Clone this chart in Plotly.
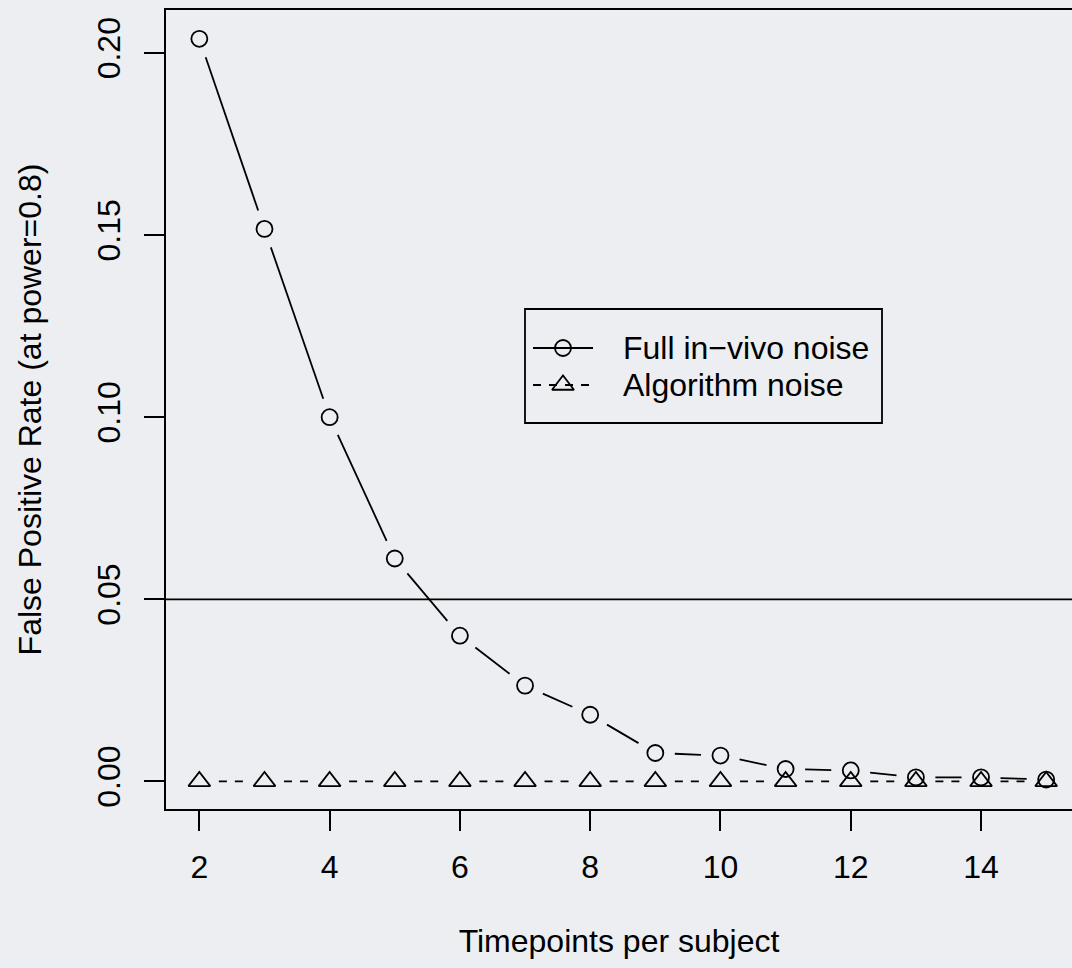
import plotly.graph_objects as go

# ---------------- data ----------------
timepoints = [2, 3, 4, 5, 6, 7, 8, 9, 10, 11, 12, 13, 14, 15]
full_invivo = [0.2039, 0.1517, 0.1000, 0.0612, 0.0400, 0.0263, 0.0183,
               0.0078, 0.0071, 0.0034, 0.0030, 0.0011, 0.0011, 0.0005]
algorithm = [0.0] * 14
threshold = 0.05
x_ticks = [2, 4, 6, 8, 10, 12, 14]
y_ticks = [0.00, 0.05, 0.10, 0.15, 0.20]
y_tick_text = ["0.00", "0.05", "0.10", "0.15", "0.20"]
series_names = ["Full in\u2212vivo noise", "Algorithm noise"]

# ---------------- layout geometry ----------------
W, H = 1072, 968
ML, MR, MT, MB = 166, 0, 10, 159
PW, PH = W - ML - MR, H - MT - MB
XMIN = 1.488
XPX = 65.14                      # px per x unit
XMAX = XMIN + PW / XPX
YPX = 3642.0                     # px per y unit
YMIN = -(809.3 - 781.7) / YPX
YMAX = YMIN + PH / YPX
BG = "#eceef1"
FONT = "Liberation Sans, Arial, Helvetica, sans-serif"
FS = 32
LW = 1.8
GAP = 19.5                       # R type="b" gap around points (px)


def gapped(xs, ys):
    """Segments between consecutive points, shortened around each point (R type='b')."""
    gx, gy = [], []
    for i in range(len(xs) - 1):
        x0, y0 = (xs[i] - XMIN) * XPX, (ys[i] - YMIN) * YPX
        x1, y1 = (xs[i + 1] - XMIN) * XPX, (ys[i + 1] - YMIN) * YPX
        dx, dy = x1 - x0, y1 - y0
        d = (dx * dx + dy * dy) ** 0.5
        if d <= 2 * GAP:
            continue
        ux, uy = dx / d, dy / d
        sx, sy = x0 + ux * GAP, y0 + uy * GAP
        ex, ey = x1 - ux * GAP, y1 - uy * GAP
        gx += [sx / XPX + XMIN, ex / XPX + XMIN, None]
        gy += [sy / YPX + YMIN, ey / YPX + YMIN, None]
    return gx, gy


fig = go.Figure()

# lines (gapped)
fx, fy = gapped(timepoints, full_invivo)
ax_, ay_ = gapped(timepoints, algorithm)
fig.add_trace(go.Scatter(x=fx, y=fy, mode="lines", showlegend=False,
                         line=dict(color="black", width=LW), hoverinfo="skip"))
fig.add_trace(go.Scatter(x=ax_, y=ay_, mode="lines", showlegend=False,
                         line=dict(color="black", width=LW, dash="8px,8px"),
                         hoverinfo="skip"))

# points
fig.add_trace(go.Scatter(x=timepoints, y=full_invivo, mode="markers",
                         name=series_names[0], showlegend=False,
                         marker=dict(symbol="circle-open", size=16,
                                     line=dict(color="black", width=LW), color="black")))
fig.add_trace(go.Scatter(x=timepoints, y=algorithm, mode="markers",
                         name=series_names[1], showlegend=False,
                         marker=dict(symbol="triangle-up-open", size=19,
                                     line=dict(color="black", width=LW), color="black")))

# threshold line
fig.add_hline(y=threshold, line=dict(color="black", width=LW), layer="below")

# ---------------- legend (R-style, drawn on a pixel-space overlay axis) -------------
LEG_BOX = (525, 309, 882, 423)          # left, top, right, bottom (px)
LEG_ROWS = [348, 385]                    # row centres (px)
LEG_SYM = (533, 593)                     # symbol line extent (px)
LEG_TEXT_X = 621
leg_dash = ["solid", "8px,8px"]
leg_sym = ["circle-open", "triangle-up-open"]
leg_size = [16, 19]

for i, name in enumerate(series_names):
    ry = H - LEG_ROWS[i]
    fig.add_trace(go.Scatter(x=[LEG_SYM[0], LEG_SYM[1]], y=[ry, ry], mode="lines",
                             xaxis="x2", yaxis="y2", showlegend=False, hoverinfo="skip",
                             line=dict(color="black", width=LW, dash=leg_dash[i])))
    fig.add_trace(go.Scatter(x=[(LEG_SYM[0] + LEG_SYM[1]) / 2], y=[ry], mode="markers",
                             xaxis="x2", yaxis="y2", showlegend=False, hoverinfo="skip",
                             marker=dict(symbol=leg_sym[i], size=leg_size[i],
                                         color="black",
                                         line=dict(color="black", width=LW))))
    fig.add_annotation(x=LEG_TEXT_X, y=ry, xref="x2", yref="y2", text=name,
                       showarrow=False, xanchor="left", yanchor="middle",
                       font=dict(family=FONT, size=FS, color="black"))

fig.add_shape(type="rect", xref="x2", yref="y2",
              x0=LEG_BOX[0], x1=LEG_BOX[2], y0=H - LEG_BOX[3], y1=H - LEG_BOX[1],
              line=dict(color="black", width=LW), fillcolor="rgba(0,0,0,0)")

fig.update_layout(
    width=W, height=H,
    margin=dict(l=ML, r=MR, t=MT, b=MB, pad=0),
    paper_bgcolor=BG, plot_bgcolor=BG,
    font=dict(family=FONT, size=FS, color="black"),
    showlegend=False,
    xaxis=dict(range=[XMIN, XMAX], tickvals=x_ticks, ticks="outside", ticklen=20,
               tickwidth=LW, tickcolor="black", showline=True, mirror=True,
               linecolor="black", linewidth=LW, showgrid=False, zeroline=False,
               ticklabelstandoff=9, tickfont=dict(size=FS),
               title=dict(text="Timepoints per subject", standoff=45,
                          font=dict(size=FS))),
    yaxis=dict(range=[YMIN, YMAX], tickvals=y_ticks, ticktext=y_tick_text,
               ticks="outside", ticklen=20, tickwidth=LW, tickcolor="black",
               showline=True, mirror=False, linecolor="black", linewidth=LW,
               showgrid=False, zeroline=False, tickangle=-90,
               ticklabelstandoff=11, tickfont=dict(size=FS),
               title=dict(text="False Positive Rate (at power=0.8)", standoff=40,
                          font=dict(size=FS))),
    # pixel-space overlay used only to place the legend box
    xaxis2=dict(range=[ML, W - MR], overlaying="x", visible=False, fixedrange=True),
    yaxis2=dict(range=[MB, H - MT], overlaying="y", visible=False, fixedrange=True),
)

fig.write_html("out.html")
